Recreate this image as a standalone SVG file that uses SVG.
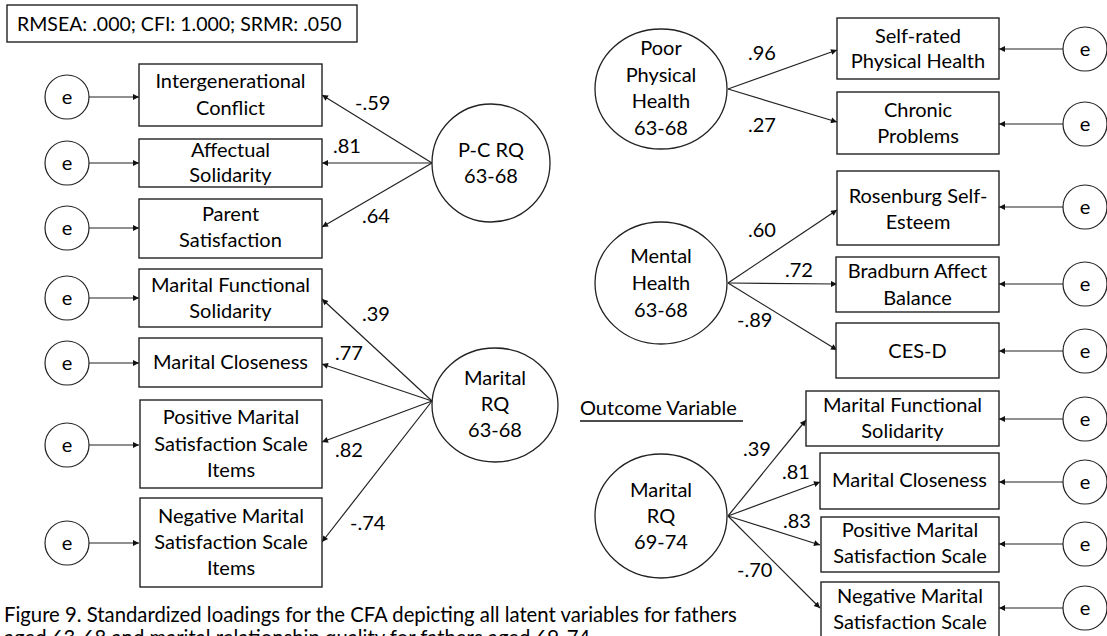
<svg xmlns="http://www.w3.org/2000/svg" width="1107" height="636" viewBox="0 0 1107 636">
  <style>
    text { font-family: Lato, "Liberation Sans", sans-serif; fill: #000; }
    .t { font-size: 20px; text-anchor: middle; }
    .lbl { font-size: 20px; }
    .fit { font-size: 19.5px; }
    .cap { font-size: 20.3px; }
    .box { fill: #fff; stroke: #222; stroke-width: 1.4; }
    .lat { fill: #fff; stroke: #222; stroke-width: 1.3; }
    .err { fill: #fff; stroke: #222; stroke-width: 1.2; }
    .edge { stroke: #222; stroke-width: 1.2; fill: none; marker-end: url(#ah); }
  </style>
  <defs>
    <marker id="ah" viewBox="0 0 10 10" refX="10" refY="5" markerWidth="8" markerHeight="6" orient="auto" markerUnits="userSpaceOnUse">
      <path d="M0,0 L10,5 L0,10 z" fill="#111"/>
    </marker>
  </defs>

  <rect width="1107" height="636" fill="#fff"/>

  <!-- model fit summary -->
  <g id="fit">
    <rect x="7" y="5" width="350" height="37" class="box"/>
    <text x="17" y="31" class="fit">RMSEA: .000; CFI: 1.000; SRMR: .050</text>
  </g>

  <!-- connectors: loadings and error paths -->
  <g id="connectors">
    <!-- P-C RQ 63-68 -->
    <line x1="432" y1="163" x2="322" y2="95" class="edge"/>
    <line x1="432" y1="163" x2="322" y2="163" class="edge"/>
    <line x1="432" y1="163" x2="322" y2="227" class="edge"/>
    <!-- Marital RQ 63-68 -->
    <line x1="432" y1="401" x2="322" y2="299" class="edge"/>
    <line x1="432" y1="401" x2="322" y2="364" class="edge"/>
    <line x1="432" y1="401" x2="322" y2="442" class="edge"/>
    <line x1="432" y1="401" x2="322" y2="542" class="edge"/>
    <!-- Poor Physical Health 63-68 -->
    <line x1="728" y1="89" x2="837" y2="50" class="edge"/>
    <line x1="728" y1="89" x2="837" y2="122" class="edge"/>
    <!-- Mental Health 63-68 -->
    <line x1="728" y1="283" x2="837" y2="210" class="edge"/>
    <line x1="728" y1="283" x2="837" y2="284" class="edge"/>
    <line x1="728" y1="283" x2="837" y2="350" class="edge"/>
    <!-- Marital RQ 69-74 -->
    <line x1="728" y1="516" x2="806" y2="420" class="edge"/>
    <line x1="728" y1="516" x2="820" y2="482" class="edge"/>
    <line x1="728" y1="516" x2="820" y2="545" class="edge"/>
    <line x1="728" y1="516" x2="820" y2="608" class="edge"/>
    <!-- left error terms -->
    <line x1="89" y1="97" x2="139" y2="97" class="edge"/>
    <line x1="89" y1="163" x2="139" y2="163" class="edge"/>
    <line x1="89" y1="228" x2="139" y2="228" class="edge"/>
    <line x1="89" y1="298" x2="139" y2="298" class="edge"/>
    <line x1="89" y1="363" x2="139" y2="363" class="edge"/>
    <line x1="89" y1="445" x2="139" y2="445" class="edge"/>
    <line x1="89" y1="543" x2="139" y2="543" class="edge"/>
    <!-- right error terms -->
    <line x1="1063" y1="49" x2="999" y2="49" class="edge"/>
    <line x1="1063" y1="124" x2="999" y2="124" class="edge"/>
    <line x1="1063" y1="207" x2="999" y2="207" class="edge"/>
    <line x1="1063" y1="284" x2="999" y2="284" class="edge"/>
    <line x1="1063" y1="351" x2="999" y2="351" class="edge"/>
    <line x1="1063" y1="419" x2="999" y2="419" class="edge"/>
    <line x1="1063" y1="482" x2="999" y2="482" class="edge"/>
    <line x1="1063" y1="544" x2="999" y2="544" class="edge"/>
    <line x1="1063" y1="608" x2="999" y2="608" class="edge"/>
  </g>

  <!-- loading labels -->
  <g id="loadings">
    <text x="355" y="110" class="lbl">-.59</text>
    <text x="333" y="153" class="lbl">.81</text>
    <text x="362" y="223" class="lbl">.64</text>
    <text x="362" y="321" class="lbl">.39</text>
    <text x="335" y="360" class="lbl">.77</text>
    <text x="335" y="457" class="lbl">.82</text>
    <text x="350" y="530" class="lbl">-.74</text>
    <text x="748" y="60" class="lbl">.96</text>
    <text x="748" y="132" class="lbl">.27</text>
    <text x="748" y="237" class="lbl">.60</text>
    <text x="785" y="277" class="lbl">.72</text>
    <text x="737" y="327" class="lbl">-.89</text>
    <text x="743" y="456" class="lbl">.39</text>
    <text x="782" y="479" class="lbl">.81</text>
    <text x="783" y="528" class="lbl">.83</text>
    <text x="737" y="577" class="lbl">-.70</text>
  </g>

  <!-- latent variables -->
  <g id="pcrq">
    <circle cx="491" cy="163" r="59" class="lat"/>
    <text x="491" y="157" class="t">P-C RQ</text>
    <text x="491" y="183" class="t">63-68</text>
  </g>
  <g id="marital-rq-63">
    <ellipse cx="495" cy="405" rx="63" ry="57" class="lat"/>
    <text x="495" y="385" class="t">Marital</text>
    <text x="495" y="411" class="t">RQ</text>
    <text x="495" y="437" class="t">63-68</text>
  </g>
  <g id="poor-physical">
    <ellipse cx="661" cy="89" rx="66" ry="60" class="lat"/>
    <text x="661" y="55" class="t">Poor</text>
    <text x="661" y="82" class="t">Physical</text>
    <text x="661" y="108" class="t">Health</text>
    <text x="661" y="135" class="t">63-68</text>
  </g>
  <g id="mental-health">
    <ellipse cx="661" cy="283" rx="66" ry="61" class="lat"/>
    <text x="661" y="263" class="t">Mental</text>
    <text x="661" y="290" class="t">Health</text>
    <text x="661" y="317" class="t">63-68</text>
  </g>
  <g id="marital-rq-69">
    <ellipse cx="661" cy="516" rx="66" ry="62" class="lat"/>
    <text x="661" y="497" class="t">Marital</text>
    <text x="661" y="523" class="t">RQ</text>
    <text x="661" y="549" class="t">69-74</text>
  </g>

  <!-- indicators, left column -->
  <g id="intergen-conflict">
    <rect x="139" y="64" width="183" height="62" class="box"/>
    <text x="230.5" y="88" class="t">Intergenerational</text>
    <text x="230.5" y="115" class="t">Conflict</text>
  </g>
  <g id="affectual-solidarity">
    <rect x="139" y="139" width="183" height="48" class="box"/>
    <text x="230.5" y="157" class="t">Affectual</text>
    <text x="230.5" y="182" class="t">Solidarity</text>
  </g>
  <g id="parent-satisfaction">
    <rect x="139" y="199" width="183" height="59" class="box"/>
    <text x="230.5" y="221" class="t">Parent</text>
    <text x="230.5" y="247" class="t">Satisfaction</text>
  </g>
  <g id="marital-functional-63">
    <rect x="139" y="269" width="183" height="58" class="box"/>
    <text x="230.5" y="292" class="t">Marital Functional</text>
    <text x="230.5" y="318" class="t">Solidarity</text>
  </g>
  <g id="marital-closeness-63">
    <rect x="139" y="338" width="183" height="49" class="box"/>
    <text x="230.5" y="369" class="t">Marital Closeness</text>
  </g>
  <g id="positive-marital-63">
    <rect x="140" y="400" width="182" height="88" class="box"/>
    <text x="231" y="424" class="t">Positive Marital</text>
    <text x="231" y="451" class="t">Satisfaction Scale</text>
    <text x="231" y="477" class="t">Items</text>
  </g>
  <g id="negative-marital-63">
    <rect x="140" y="498" width="182" height="89" class="box"/>
    <text x="231" y="523" class="t">Negative Marital</text>
    <text x="231" y="549" class="t">Satisfaction Scale</text>
    <text x="231" y="575" class="t">Items</text>
  </g>

  <!-- indicators, right column -->
  <g id="self-rated-health">
    <rect x="837" y="18" width="162" height="61" class="box"/>
    <text x="918" y="43" class="t">Self-rated</text>
    <text x="918" y="68" class="t">Physical Health</text>
  </g>
  <g id="chronic-problems">
    <rect x="837" y="92" width="162" height="62" class="box"/>
    <text x="918" y="117" class="t">Chronic</text>
    <text x="918" y="143" class="t">Problems</text>
  </g>
  <g id="rosenburg">
    <rect x="837" y="171" width="162" height="74" class="box"/>
    <text x="918" y="203" class="t">Rosenburg Self-</text>
    <text x="918" y="229" class="t">Esteem</text>
  </g>
  <g id="bradburn">
    <rect x="836" y="257" width="163" height="55" class="box"/>
    <text x="917.5" y="278" class="t">Bradburn Affect</text>
    <text x="917.5" y="305" class="t">Balance</text>
  </g>
  <g id="ces-d">
    <rect x="836" y="323" width="163" height="55" class="box"/>
    <text x="917.5" y="358" class="t">CES-D</text>
  </g>
  <g id="outcome-heading">
    <text x="580" y="415" class="lbl">Outcome Variable</text>
    <line x1="580" y1="421" x2="743" y2="421" stroke="#111" stroke-width="1.3"/>
  </g>
  <g id="marital-functional-69">
    <rect x="806" y="391" width="193" height="55" class="box"/>
    <text x="902.5" y="412" class="t">Marital Functional</text>
    <text x="902.5" y="438" class="t">Solidarity</text>
  </g>
  <g id="marital-closeness-69">
    <rect x="820" y="453" width="179" height="56" class="box"/>
    <text x="909.5" y="487" class="t">Marital Closeness</text>
  </g>
  <g id="positive-marital-69">
    <rect x="821" y="517" width="178" height="55" class="box"/>
    <text x="910" y="537" class="t">Positive Marital</text>
    <text x="910" y="563" class="t">Satisfaction Scale</text>
  </g>
  <g id="negative-marital-69">
    <rect x="821" y="582" width="178" height="70" class="box"/>
    <text x="910" y="603" class="t">Negative Marital</text>
    <text x="910" y="629" class="t">Satisfaction Scale</text>
  </g>

  <!-- error terms -->
  <g id="errors-left">
    <g id="e-l1"><circle cx="67" cy="97" r="22" class="err"/><text x="67" y="104" class="t">e</text></g>
    <g id="e-l2"><circle cx="67" cy="163" r="22" class="err"/><text x="67" y="170" class="t">e</text></g>
    <g id="e-l3"><circle cx="67" cy="228" r="22" class="err"/><text x="67" y="235" class="t">e</text></g>
    <g id="e-l4"><circle cx="67" cy="298" r="22" class="err"/><text x="67" y="305" class="t">e</text></g>
    <g id="e-l5"><circle cx="67" cy="363" r="22" class="err"/><text x="67" y="370" class="t">e</text></g>
    <g id="e-l6"><circle cx="67" cy="445" r="22" class="err"/><text x="67" y="452" class="t">e</text></g>
    <g id="e-l7"><circle cx="67" cy="543" r="22" class="err"/><text x="67" y="550" class="t">e</text></g>
  </g>
  <g id="errors-right">
    <g id="e-r1"><circle cx="1085" cy="49" r="22" class="err"/><text x="1085" y="56" class="t">e</text></g>
    <g id="e-r2"><circle cx="1085" cy="124" r="22" class="err"/><text x="1085" y="131" class="t">e</text></g>
    <g id="e-r3"><circle cx="1085" cy="207" r="22" class="err"/><text x="1085" y="214" class="t">e</text></g>
    <g id="e-r4"><circle cx="1085" cy="284" r="22" class="err"/><text x="1085" y="291" class="t">e</text></g>
    <g id="e-r5"><circle cx="1085" cy="351" r="22" class="err"/><text x="1085" y="358" class="t">e</text></g>
    <g id="e-r6"><circle cx="1085" cy="419" r="22" class="err"/><text x="1085" y="426" class="t">e</text></g>
    <g id="e-r7"><circle cx="1085" cy="482" r="22" class="err"/><text x="1085" y="489" class="t">e</text></g>
    <g id="e-r8"><circle cx="1085" cy="544" r="22" class="err"/><text x="1085" y="551" class="t">e</text></g>
    <g id="e-r9"><circle cx="1085" cy="608" r="22" class="err"/><text x="1085" y="615" class="t">e</text></g>
  </g>

  <!-- caption -->
  <g id="caption">
    <text x="4" y="622" class="cap">Figure 9. Standardized loadings for the CFA depicting all latent variables for fathers</text>
    <text x="4" y="645" class="cap">aged 63-68 and marital relationship quality for fathers aged 69-74.</text>
  </g>
</svg>
